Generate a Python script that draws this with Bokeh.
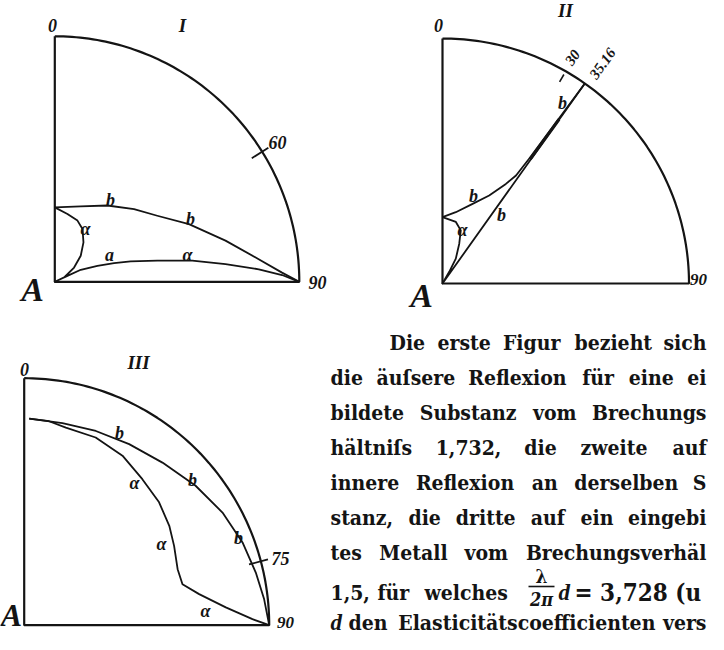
import numpy as np
from bokeh.plotting import figure
from bokeh.models import Range1d, ColumnDataSource
from bokeh.embed import file_html
from bokeh.resources import INLINE
from bokeh.core.properties import value

# ---------------- data ----------------
# amplitude of the reflected light (radius, 1 = full) against angle of incidence (deg)
# Figure I : external reflection, refractive index 1.732
f1_b_angle = [0, 19, 34.7, 47.6, 57.3, 66.8, 76.5, 83.7, 87.7, 90]
f1_b_amp = [0.303, 0.325, 0.378, 0.439, 0.498, 0.597, 0.718, 0.839, 0.930, 1.0]
f1_a_angle = [0, 10.6, 20.4, 27.8, 36.1, 45, 53.6, 65.4, 65, 64.7, 65.2, 69.5,
              72.6, 75.0, 78.4, 81.3, 84.1, 86.5, 88.3, 90]
f1_a_amp = [0.303, 0.281, 0.266, 0.243, 0.199, 0.150, 0.098, 0.042, 0.0, 0.057,
            0.117, 0.186, 0.254, 0.321, 0.428, 0.569, 0.702, 0.836, 0.930, 1.0]
f1_ticks = [58]
f1_tick_labels = ["60"]

# Figure II : internal reflection, same substance (critical angle 35°16')
f2_b_angle = [0, 10.5, 20.6, 27.8, 32.3, 34.1, 34.6, 35.0, 35.27]
f2_b_amp = [0.271, 0.296, 0.347, 0.406, 0.481, 0.532, 0.62, 0.80, 1.0]
f2_a_angle = [0, 12.2, 18.9, 22.7, 28.0, 29.8, 30, 35.27]
f2_a_amp = [0.271, 0.257, 0.229, 0.176, 0.115, 0.055, 0.0, 1.0]
f2_ticks = [30, 35.27]
f2_tick_labels = ["30", "35.16"]

# Figure III : embedded metal, refractive index 1.5
f3_b_angle = [1.4, 10.8, 20.4, 30.3, 40.6, 51.1, 60.6, 69.4, 77.3, 83.9, 90]
f3_b_amp = [0.837, 0.833, 0.839, 0.849, 0.867, 0.899, 0.929, 0.952, 0.969, 0.985, 1.0]
f3_a_angle = [1.4, 7, 12.0, 21.0, 30.3, 39.2, 47.9, 55.8, 62.3, 70.1, 75.6, 80.0,
              85.0, 88.5, 90]
f3_a_amp = [0.837, 0.832, 0.818, 0.814, 0.795, 0.763, 0.742, 0.716, 0.691, 0.666,
            0.667, 0.725, 0.826, 0.932, 1.0]
f3_ticks = [75]
f3_tick_labels = ["75"]

body_lines = [
    "Die erste Figur bezieht sich",
    "die äuſsere Reflexion für eine ei",
    "bildete Substanz vom Brechungs",
    "hältniſs 1,732, die zweite auf",
    "innere Reflexion an derselben S",
    "stanz, die dritte auf ein eingebi",
    "tes Metall vom Brechungsverhäl",
]
last_line = "den Elasticitätscoefficienten vers"

# ---------------- layout ----------------
FIGS = {
    "I": dict(ax=62.3, ay=289.3, rx=244.5, ry=245.5),
    "II": dict(ax=450.0, ay=291.0, rx=246.5, ry=245.0),
    "III": dict(ax=31.7, ay=632.7, rx=245.0, ry=247.0),
}
INK = "#141414"
LABEL_FONT = value("Liberation Serif, Times New Roman, DejaVu Serif, serif")
BODY_FONT = value("DejaVu Serif Condensed, DejaVu Serif, serif")
BODY_SIZE = 21
RIGHT = 714

# rough advance widths (em) of the body face, used only to spread words (justify)
CW = {"a": .60, "b": .64, "c": .54, "d": .64, "e": .58, "f": .39, "g": .64, "h": .70,
      "i": .35, "k": .66, "l": .35, "m": 1.03, "n": .70, "o": .62, "p": .64, "r": .51,
      "s": .50, "t": .43, "u": .70, "v": .60, "w": .87, "x": .60, "z": .53, "ä": .60,
      "ü": .70, "ſ": .37, "D": .80, "F": .70, "M": 1.0, "R": .76, "S": .66, "E": .72,
      ",": .33, ".": .33, "(": .42}


def est_width(word, size=BODY_SIZE):
    return sum(CW.get(c, .63) for c in word) * 0.96 * size


def justify(text, left, right):
    words = text.split(" ")
    widths = [est_width(w) for w in words]
    gap = (right - left - sum(widths)) / max(len(words) - 1, 1)
    xs, x = [], left
    for w in widths:
        xs.append(x)
        x += w + gap
    return words, xs


def polar(fig, ang, amp):
    a = np.radians(np.asarray(ang, dtype=float))
    r = np.asarray(amp, dtype=float)
    return fig["ax"] + fig["rx"] * r * np.sin(a), fig["ay"] - fig["ry"] * r * np.cos(a)


p = figure(width=708, height=634, x_range=Range1d(8, 716), y_range=Range1d(642, 8),
           toolbar_location=None, output_backend="svg", min_border=0,
           x_axis_location=None, y_axis_location=None)
p.grid.visible = False
p.outline_line_color = None
p.background_fill_color = "white"
p.border_fill_color = "white"

# quadrant frames
for key, fig in FIGS.items():
    arc_t = np.linspace(90, 0, 91)
    ang = np.concatenate([[0, 0, 90], arc_t])
    amp = np.concatenate([[1, 0, 1], np.ones_like(arc_t)])
    x, y = polar(fig, ang, amp)
    p.line(x, y, line_color=INK, line_width=2.2)

curves = [
    ("I", f1_b_angle, f1_b_amp), ("I", f1_a_angle, f1_a_amp),
    ("II", f2_b_angle, f2_b_amp), ("II", f2_a_angle, f2_a_amp),
    ("III", f3_b_angle, f3_b_amp), ("III", f3_a_angle, f3_a_amp),
]
for key, ang, amp in curves:
    x, y = polar(FIGS[key], ang, amp)
    p.line(x, y, line_color=INK, line_width=1.8, line_join="round")

# thickened piece of b in II close to the critical line
x, y = polar(FIGS["II"], [35.05, 35.2], [0.62, 0.82])
p.line(x, y, line_color=INK, line_width=3.2)

# angle ticks on the arcs
for key, ticks in (("I", f1_ticks), ("III", f3_ticks)):
    for t in ticks:
        x, y = polar(FIGS[key], [t, t], [0.95, 1.03])
        p.line(x, y, line_color=INK, line_width=1.8)
x, y = polar(FIGS["II"], [f2_ticks[0]] * 2, [0.95, 0.985])
p.line(x, y, line_color=INK, line_width=1.6)


# ---------------- labels ----------------
def labels(xs, ys, texts, size, angle=0.0, align="center"):
    src = ColumnDataSource(dict(x=xs, y=ys, text=texts))
    p.text(x="x", y="y", text="text", source=src, text_font=LABEL_FONT,
           text_font_style="bold italic", text_font_size=f"{size}px",
           text_color=INK, text_align=align, text_baseline="middle", angle=angle)


# Figure I
labels([60, 118, 198, 93, 117, 195], [33, 207, 226, 236, 262, 262],
       ["0", "b", "b", "α", "a", "α"], 18)
labels([190], [33], ["I"], 19)
labels([285], [150], f1_tick_labels, 18)
labels([325], [290], ["90"], 18)
labels([40], [297], ["A"], 34)
# Figure II
labels([446, 481, 509, 470, 570], [33, 203, 222, 237, 110],
       ["0", "b", "b", "α", "b"], 18)
labels([573], [18], ["II"], 19)
labels([580, 610], [65, 71], f2_tick_labels, 15, angle=0.95)
labels([706], [287], ["90"], 17)
labels([429], [303], ["A"], 34)
# Figure III
labels([32, 127, 200, 246, 142, 169, 213], [377, 440, 487, 545, 490, 551, 618],
       ["0", "b", "b", "b", "α", "α", "α"], 18)
labels([146], [370], ["III"], 19)
labels([288], [566], f3_tick_labels, 18)
labels([293], [630], ["90"], 17)
labels([19], [622], ["A"], 32)


# ---------------- running text (justified word by word) ----------------
def body(x, y, t, style="bold", size=BODY_SIZE, align="left", baseline="alphabetic",
         font=BODY_FONT):
    p.text(x=x, y=y, text=t, text_font=font, text_font_style=style,
           text_font_size=f"{size}px", text_color=INK, text_align=align,
           text_baseline=baseline)


def justified_line(text, left, y):
    words, xs = justify(text, left, RIGHT)
    body(xs[:-1], [y] * (len(words) - 1), words[:-1])
    body([RIGHT], [y], [words[-1]], align="right")


base = [350, 385, 420, 455, 490, 525, 560]
lefts = [397] + [338] * 6
for line, left, y in zip(body_lines, lefts, base):
    justified_line(line, left, y)

y8 = 600
body([338], [y8], ["1,5,"])
body([385], [y8], ["für"])
body([432], [y8], ["welches"])
body([549], [y8 - 17], ["λ"], size=19, align="center", baseline="middle")
p.line([536, 562], [y8 - 6, y8 - 6], line_color=INK, line_width=1.6)
body([549], [y8 + 7], ["2π"], style="bold italic", size=18, align="center", baseline="middle")
body([566], [y8], ["d"], style="bold italic", font=LABEL_FONT, size=23)
body([582], [y8], ["= 3,728 (u"], size=24)

y9 = 630
body([338], [y9], ["d"], style="bold italic", font=LABEL_FONT, size=23)
justified_line(last_line, 356, y9)

open("out.html", "w").write(file_html(p, INLINE))
